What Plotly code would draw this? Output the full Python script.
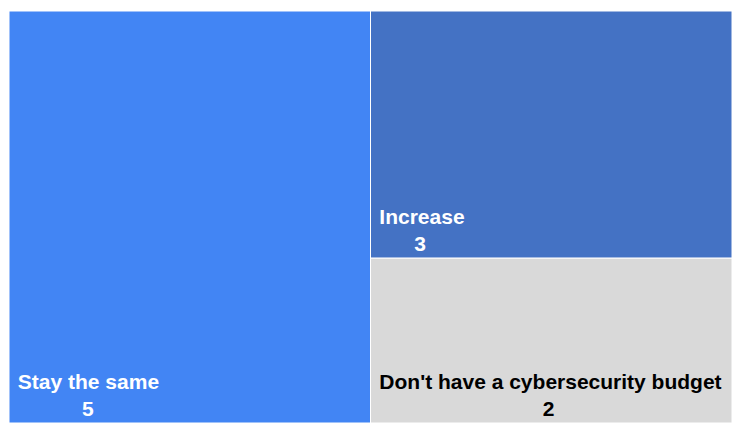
import plotly.graph_objects as go

# Budget outlook categories and respondent counts
labels = ["Stay the same", "Increase", "Don't have a cybersecurity budget"]
values = [5, 3, 2]
colors = ["#4285F4", "#4472C4", "#D9D9D9"]
text_colors = ["#FFFFFF", "#FFFFFF", "#000000"]

FONT_SIZE = 21
NBSP = "\u00a0"

# Approximate Arial Bold advance widths (per 1000 units of em)
GLYPH_W = {
    " ": 278, "'": 238, "a": 556, "b": 611, "c": 556, "d": 611, "e": 556,
    "g": 611, "h": 611, "i": 278, "m": 889, "n": 611, "o": 611, "r": 389,
    "s": 556, "t": 333, "u": 611, "v": 556, "y": 556, "D": 722, "I": 278,
    "S": 667,
}


def text_width(s):
    return sum(GLYPH_W.get(ch, 556 if ch.isdigit() else 600) for ch in s) * FONT_SIZE / 1000


def tile_text(label, value):
    # Center the value line under the label line (text lines are left-anchored)
    gap = (text_width(label) - text_width(str(value))) / 2
    n = max(0, round(gap / (GLYPH_W[" "] * FONT_SIZE / 1000)))
    lead = NBSP
    return f"<b>{lead}{label}</b><br><b>{lead}{NBSP * n}{value}</b>"


texts = [tile_text(lab, val) for lab, val in zip(labels, values)]

fig = go.Figure(
    go.Treemap(
        labels=labels,
        parents=["" for _ in labels],
        values=values,
        text=texts,
        sort=False,
        texttemplate="%{text}",
        textposition="bottom left",
        textfont=dict(family="Liberation Sans, Arial, sans-serif", size=FONT_SIZE, color=text_colors),
        marker=dict(
            colors=colors,
            line=dict(color="#FFFFFF", width=1),
            pad=dict(t=0, l=0, r=0, b=0),
        ),
        pathbar=dict(visible=False),
        tiling=dict(pad=0),
        domain=dict(x=[0, 1], y=[0, 1]),
        hoverinfo="label+value",
    )
)

fig.update_layout(
    width=732,
    height=423,
    margin=dict(l=9, r=0, t=11, b=0),
    paper_bgcolor="#FFFFFF",
    uniformtext=dict(minsize=FONT_SIZE, mode="show"),
)

fig.write_html("out.html")
